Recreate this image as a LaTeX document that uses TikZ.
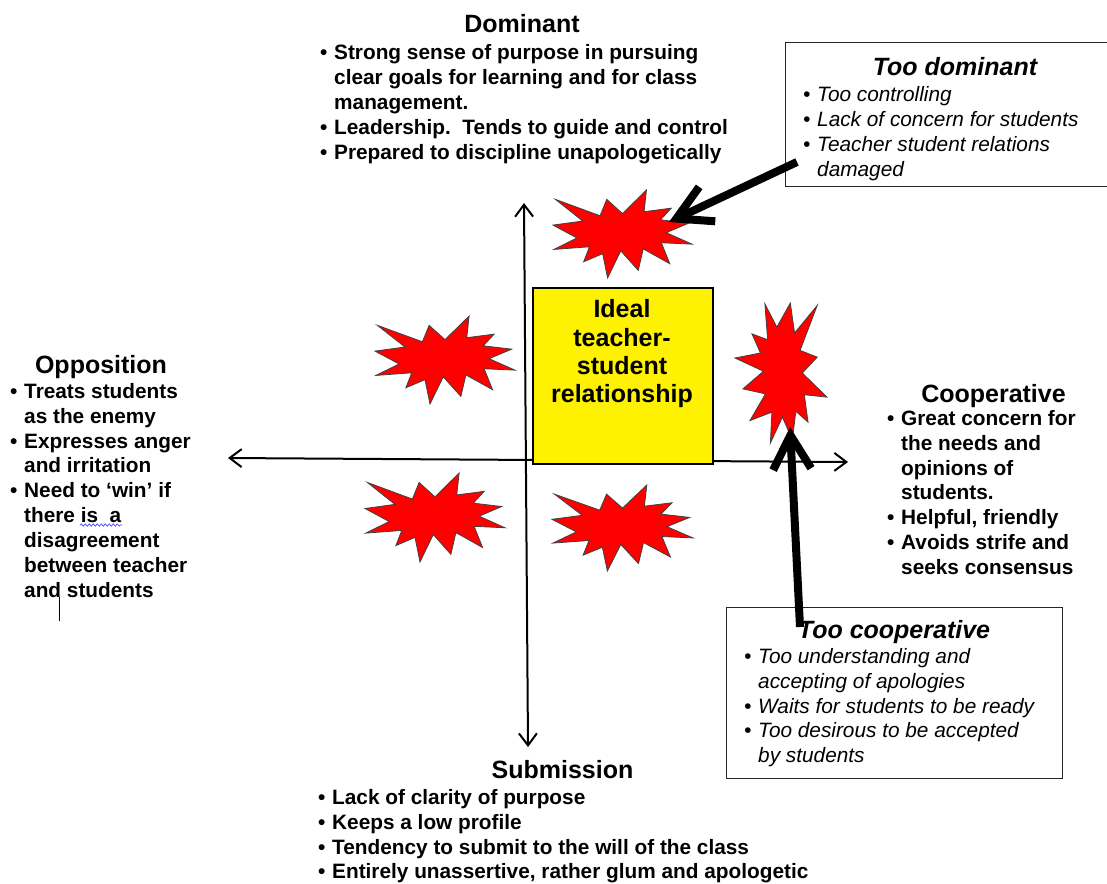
\documentclass[tikz,border=0pt]{standalone}
\usepackage{fontspec}
\setmainfont{Liberation Sans}
\usetikzlibrary{arrows.meta,decorations.pathmorphing}

\newcommand{\bu}{\makebox[14pt][l]{\textbullet}}
\newcommand{\bs}{\hspace*{14pt}}

% explosion shape, unit box centred on the pic position
\tikzset{
  pics/bang/.style={code={
    \draw[bangfill] (0,-0.2315) -- (0.1723,-0.5) -- (0.1553,-0.2535) -- (0.3509,-0.2937)
      -- (0.2732,-0.1613) -- (0.4767,-0.1233) -- (0.3151,-0.0150) -- (0.5,0.1153)
      -- (0.2795,0.0992) -- (0.3400,0.3377) -- (0.1491,0.1693) -- (0.1133,0.4137)
      -- (-0.0124,0.1914) -- (-0.1072,0.5) -- (-0.1428,0.2235) -- (-0.2795,0.3156)
      -- (-0.2376,0.1452) -- (-0.4937,0.1753) -- (-0.3277,0.0451) -- (-0.5,-0.1012)
      -- (-0.2858,-0.1474) -- (-0.4829,-0.3937) -- (-0.1615,-0.2074) -- (-0.1133,-0.3937)
      -- cycle;
  }}
}

\begin{document}
\begin{tikzpicture}[x=1pt,y=-1pt,
  ttl/.style={font=\fontsize{25}{28.3}\selectfont\bfseries, inner sep=0},
  txt/.style={font=\fontsize{20.8}{24.9}\selectfont\bfseries, align=left, inner sep=0, anchor=north west},
  itl/.style={font=\fontsize{20.8}{24.9}\selectfont\itshape, align=left, inner sep=0, anchor=north west},
  card/.style={draw=black!85, line width=1.2pt, anchor=north west, inner sep=0},
  ideal/.style={draw=black, line width=1.5pt, fill=yellow, anchor=north west, inner sep=0},
  bangfill/.style={fill=red, draw=black!75, line width=0.8pt},
  axis/.style={line width=2pt, {Straight Barb[length=12pt,width=18pt]}-{Straight Barb[length=12pt,width=18pt]}},
  fat/.style={line width=8pt, -{Straight Barb[length=34pt,width=38pt]}}]

	\useasboundingbox (0,0) rectangle (1107,883);
	\clip (0,0) rectangle (1107,883);
	\fill[white] (0,0) rectangle (1107,883);

	% axes
	\coordinate (N) at (524,203);
	\coordinate (S) at (528,747);
	\coordinate (W) at (228,458);
	\coordinate (E) at (848,462);
	\draw[axis] (N) -- (S);
	\draw[axis] (W) -- (E);

	% centre box
	\node[ideal, minimum width=180pt, minimum height=176pt] (ideal) at (532,287) {};
	\node[ttl, align=center, anchor=north] (idealtxt) at (622,299.5)
		{Ideal\\teacher-\\student\\relationship};

	% bangs
	\pic at (622.5,234) [xscale=139, yscale=88] {bang};
	\pic at (445,360) [xscale=140, yscale=88] {bang};
	\pic at (435,517.5) [xscale=140, yscale=89] {bang};
	\pic at (622.5,528) [xscale=141, yscale=86] {bang};
	\pic at (781,373) [rotate=-90, xscale=140, yscale=92] {bang};

	% Dominant
	\node[ttl, anchor=base] (domttl) at (522,33) {Dominant};
	\node[txt] (domtxt) at (320,44.3)
		{\bu Strong sense of purpose in pursuing\\
		 \bs clear goals for learning and for class\\
		 \bs management.\\
		 \bu Leadership.\ \ Tends to guide and control\\
		 \bu Prepared to discipline unapologetically};

	% Opposition
	\node[ttl, anchor=base] (oppttl) at (101,373) {Opposition};
	\node[txt] (opptxt) at (10,383)
		{\bu Treats students\\
		 \bs as the enemy\\
		 \bu Expresses anger\\
		 \bs and irritation\\
		 \bu Need to ‘win’ if\\
		 \bs there is\ \ a\\
		 \bs disagreement\\
		 \bs between teacher\\
		 \bs and students};
	\draw[blue!70, line width=0.7pt, decorate,
		decoration={snake, amplitude=1.2pt, segment length=4pt}] (80,525) -- (122,525);
	\draw[line width=1pt] (59,597) -- (59,621);

	% Cooperative
	\node[ttl, anchor=base] (coopttl) at (993.5,402) {Cooperative};
	\node[txt] (cooptxt) at (887,410)
		{\bu Great concern for\\
		 \bs the needs and\\
		 \bs opinions of\\
		 \bs students.\\
		 \bu Helpful, friendly\\
		 \bu Avoids strife and\\
		 \bs seeks consensus};

	% Submission
	\node[ttl, anchor=base] (subttl) at (562.5,778) {Submission};
	\node[txt] (subtxt) at (318,789)
		{\bu Lack of clarity of purpose\\
		 \bu Keeps a low profile\\
		 \bu Tendency to submit to the will of the class\\
		 \bu Entirely unassertive, rather glum and apologetic};

	% too dominant
	\node[card, minimum width=340pt, minimum height=144pt] (toodom) at (785,42) {};
	\node[ttl, anchor=base] (toodomttl) at (955,75) {\itshape Too dominant};
	\node[itl] (toodomtxt) at (803,86.7)
		{\bu Too controlling\\
		 \bu Lack of concern for students\\
		 \bu Teacher student relations\\
		 \bs damaged};

	% too cooperative
	\node[card, minimum width=336pt, minimum height=171pt] (toocoop) at (726,607) {};
	\node[ttl, anchor=base] (toocoopttl) at (894,638) {\itshape Too cooperative};
	\node[itl] (toocooptxt) at (744,648)
		{\bu Too understanding and\\
		 \bs accepting of apologies\\
		 \bu Waits for students to be ready\\
		 \bu Too desirous to be accepted\\
		 \bs by students};

	% pointers
	\coordinate (domfrom) at (797,162);
	\coordinate (domtip) at (669,222);
	\coordinate (coopfrom) at (800,627);
	\coordinate (cooptip) at (790,427);
	\draw[fat] (domfrom) -- (domtip);
	\draw[fat] (coopfrom) -- (cooptip);
\end{tikzpicture}
\end{document}
